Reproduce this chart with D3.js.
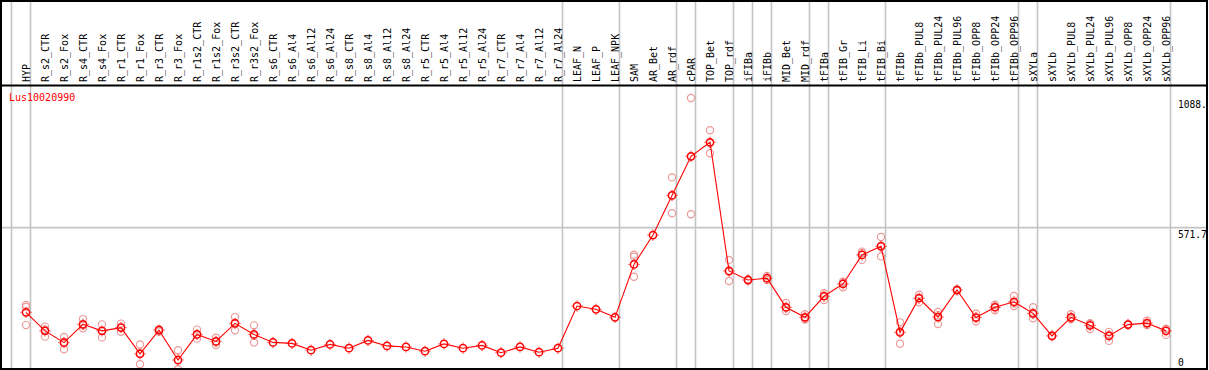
<!DOCTYPE html>
<html>
<head>
<meta charset="utf-8">
<script src="https://cdnjs.cloudflare.com/ajax/libs/d3/7.8.5/d3.min.js"></script>
<style>
  body { margin: 0; background: #fff; }
  text { font-family: "DejaVu Sans Mono", "Liberation Mono", monospace; font-size: 10px; }
</style>
</head>
<body>
<script>
// tissue categories, left to right
const categories = ["HYP","R_s2_CTR","R_s2_Fox","R_s4_CTR","R_s4_Fox","R_r1_CTR","R_r1_Fox","R_r3_CTR","R_r3_Fox",
  "R_r1s2_CTR","R_r1s2_Fox","R_r3s2_CTR","R_r3s2_Fox","R_s6_CTR","R_s6_Al4","R_s6_Al12","R_s6_Al24",
  "R_s8_CTR","R_s8_Al4","R_s8_Al12","R_s8_Al24","R_r5_CTR","R_r5_Al4","R_r5_Al12","R_r5_Al24",
  "R_r7_CTR","R_r7_Al4","R_r7_Al12","R_r7_Al24","LEAF_N","LEAF_P","LEAF_NPK","SAM","AR_Bet","AR_rdf",
  "cPAR","TOP_Bet","TOP_rdf","iFIBa","iFIBb","MID_Bet","MID_rdf","tFIBa","tFIB_Gr","tFIB_Li","tFIB_Bi",
  "tFIBb","tFIBb_PUL8","tFIBb_PUL24","tFIBb_PUL96","tFIBb_OPP8","tFIBb_OPP24","tFIBb_OPP96",
  "sXYLa","sXYLb","sXYLb_PUL8","sXYLb_PUL24","sXYLb_PUL96","sXYLb_OPP8","sXYLb_OPP24","sXYLb_OPP96"];

// mean expression
const means = [234,160,113,186,160,173,68,163,44,146,118,190,146,114,110,83,106,91,122,100,96,79,108,91,102,
  73,96,75,91,259,246,214,425,542,700,856,912,399,363,370,254,214,298,347,463,497,
  154,290,215,323,213,254,276,230,140,214,182,140,185,191,160];

// replicates (null = none shown)
const rep1 = [263,177,136,207,186,189,106,167,83,165,133,215,182,null,null,null,null,null,null,null,null,null,null,null,null,
  null,null,null,null,null,null,null,464,null,772,1088.5,960,443,365,379,271,226,310,356,476,534,
  194,304,235,325,228,264,299,254,140,226,191,156,186,201,169];
const rep2 = [255,137,87,170,134,156,27,157,7,129,104,162,114,null,null,null,null,null,null,null,null,null,null,null,null,
  null,null,null,null,null,null,null,456,null,629,625,868,359,360,363,239,205,283,334,443,457,
  109,274,187,320,198,242,259,210,138,206,167,120,183,183,144];
const rep3 = [183,165,116,182,160,174,71,165,42,145,117,193,142,null,null,null,null,null,null,null,null,null,null,null,null,
  null,null,null,null,null,null,null,376,null,700,855,908,396,364,370,252,212,300,350,470,500,
  158,292,222,324,213,256,270,226,142,210,188,144,186,189,167];

// group separators: index of last category in each group (-1 = before first)
const groupEnds = [-1,0,28,31,34,35,37,38,39,41,42,45,52,53,60];

const yTicks = [1088.5, 571.7, 0];
const yTickLabels = ["1088.", "571.7", "0"];
const geneName = "Lus10020990";

const width = 1209, height = 370;

const svg = d3.select("body").append("svg")
  .attr("width", width).attr("height", height);

svg.append("defs").append("clipPath").attr("id", "frame")
  .append("rect").attr("x", 1).attr("y", 1).attr("width", 1206).attr("height", 368);

const x = d3.scalePoint().domain(categories).range([26, 26 + 19 * 60]);
const y = d3.scaleLinear().domain([0, 1088.5]).range([371, 98]);

const g = svg.append("g").attr("clip-path", "url(#frame)");

// vertical group lines
g.selectAll("line.sep")
  .data(groupEnds)
  .enter().append("line")
  .attr("class", "sep")
  .attr("x1", d => (d < 0 ? x(categories[0]) - 19 : x(categories[d])) + 4.5)
  .attr("x2", d => (d < 0 ? x(categories[0]) - 19 : x(categories[d])) + 4.5)
  .attr("y1", 0).attr("y2", height)
  .style("stroke", "#c4c4c4").style("stroke-width", 1.6);

// horizontal grid line at middle tick only
g.append("line")
  .attr("x1", 0).attr("x2", width)
  .attr("y1", y(571.7)).attr("y2", y(571.7))
  .style("stroke", "#c4c4c4").style("stroke-width", 1.6);

// header separator
g.append("line")
  .attr("x1", 0).attr("x2", width).attr("y1", 85.5).attr("y2", 85.5)
  .style("stroke", "#000").style("stroke-width", 2);

// category labels
g.selectAll("text.cat")
  .data(categories)
  .enter().append("text")
  .attr("class", "cat")
  .attr("transform", d => `translate(${x(d) + 4},82) rotate(-90)`)
  .text(d => d);

// y tick labels
svg.selectAll("text.tick")
  .data(yTicks)
  .enter().append("text")
  .attr("class", "tick")
  .attr("x", 1178)
  .attr("y", d => Math.min(y(d) + 10, 366))
  .style("font-size", "9.6px")
  .text((d, i) => yTickLabels[i]);

// gene name
g.append("text").attr("x", 9).attr("y", 101)
  .style("fill", "red").text(geneName);

// replicate points
const reps = [];
[rep1, rep2, rep3].forEach(arr => arr.forEach((v, i) => {
  if (v !== null) reps.push({ c: categories[i], v: v });
}));
g.selectAll("circle.rep")
  .data(reps)
  .enter().append("circle")
  .attr("class", "rep")
  .attr("cx", d => x(d.c)).attr("cy", d => y(d.v)).attr("r", 3.6)
  .style("fill", "none").style("stroke", "#eb9a9a").style("stroke-width", 1.2);

// mean line
const line = d3.line()
  .x((d, i) => x(categories[i]))
  .y(d => y(d));
g.append("path").datum(means)
  .attr("d", line)
  .style("fill", "none").style("stroke", "red").style("stroke-width", 1.1);

// mean markers
const mk = g.selectAll("g.mean")
  .data(means)
  .enter().append("g")
  .attr("class", "mean")
  .attr("transform", (d, i) => `translate(${x(categories[i])},${y(d)})`);
mk.append("circle").attr("r", 3.6)
  .style("fill", "none").style("stroke", "red").style("stroke-width", 1.5);
mk.append("path")
  .attr("d", "M0,-5.5V-4.5M0,4.5V5.5M-5.5,0H-4.5M4.5,0H5.5")
  .style("stroke", "red").style("stroke-width", 1);

// frame
svg.append("rect")
  .attr("x", 1).attr("y", 1).attr("width", 1206).attr("height", 368)
  .style("fill", "none").style("stroke", "#000").style("stroke-width", 2);
</script>
</body>
</html>
